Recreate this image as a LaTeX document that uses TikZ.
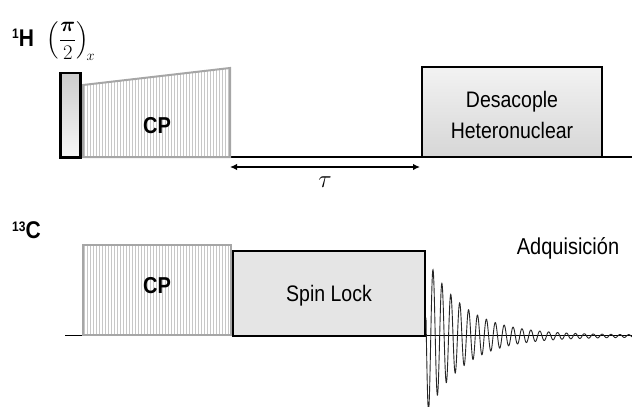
\documentclass[tikz,border=0pt]{standalone}
\usepackage{amsmath}
\usepackage{graphicx}
\usepackage{fontspec}
\setmainfont{Liberation Sans}
\usetikzlibrary{arrows.meta}
\newcommand{\tallt}[1]{\scalebox{1}[1.15]{#1}}
\tikzset{
  base/.style={line width=1.3pt, black},
  cpborder/.style={line width=2pt, draw=black!35},
  hatch/.style={line width=0.6pt, black!22},
  blackbox/.style={line width=2.4pt, draw=black},
  lbl/.style={font=\fontsize{19.5}{22}\selectfont, align=center, inner sep=0pt},
  cplbl/.style={font=\fontsize{20}{22}\selectfont\bfseries, inner sep=0pt},
  nuc/.style={font=\fontsize{21}{22}\selectfont\bfseries, inner sep=0pt, anchor=base west},
  fid/.style={line width=0.9pt, black!85},
}
\begin{document}
\begin{tikzpicture}[x=1pt,y=-1pt]
\useasboundingbox (0,0) rectangle (632,407);
% baselines
\draw[base] (230,157) -- (632,157);
\draw[base] (65,335.5) -- (632,335.5);
% 1H CP trapezoid
\fill[white] (83,157) -- (83,85) -- (230,68) -- (230,157) -- cycle;
\begin{scope}
\clip (83,157) -- (83,85) -- (230,68) -- (230,157) -- cycle;
\foreach \i in {84,87,...,230} \draw[hatch] (\i,60) -- (\i,160);
\end{scope}
\draw[cpborder] (83,157) -- (83,85) -- (230,68) -- (230,157) -- cycle;
% 90 pulse
\draw[blackbox, top color=black!20, bottom color=black!3] (60.5,73) rectangle (80.5,157);
\draw[line width=2pt] (59,157.5) -- (82,157.5);
% Desacople
\draw[blackbox, top color=black!5, bottom color=black!16] (422,67) rectangle (602,157);
% 13C CP
\fill[white] (83,245) rectangle (231,335);
\begin{scope}
\clip (83,245) rectangle (231,335);
\foreach \i in {84,87,...,231} \draw[hatch] (\i,240) -- (\i,340);
\end{scope}
\draw[cpborder] (83,245) rectangle (231,335);
% Spin lock
\draw[blackbox, fill=black!10] (233,251) rectangle (425,336);
% FID
\draw[fid] plot[domain=0:206, samples=1000, variable=\t]
  ({426+\t}, {336 - (78*exp(-\t/37)+1.8*exp(-\t/400))*sin(40.449*(\t-4.78))});
% tau arrow
\coordinate (tauL) at (230,167);
\coordinate (tauR) at (420,167);
\draw[line width=1.8pt, {Latex[length=7pt,width=6.5pt]}-{Latex[length=7pt,width=6.5pt]}] (tauL) -- (tauR);
\node[inner sep=0pt, font=\fontsize{25}{26}\selectfont] (tau) at (325,182) {$\tau$};
% labels
\node[nuc] (H) at (12,46) {\tallt{\raisebox{0.55ex}{\fontsize{12}{12}\selectfont 1}H}};
\node[nuc] (C) at (12,238.5) {\tallt{\raisebox{0.55ex}{\fontsize{12}{12}\selectfont 13}C}};
\node[inner sep=0pt, font=\fontsize{19.5}{21}\selectfont] (pulse) at (71,41)
  {$\displaystyle\left(\frac{\boldsymbol{\pi}}{2}\right)_{\!x}$};
\node[cplbl] (cp1) at (157,126) {\tallt{CP}};
\node[cplbl] (cp2) at (157,286) {\tallt{CP}};
\node[lbl] (dec) at (512,115) {\tallt{Desacople}\\[9pt]\tallt{Heteronuclear}};
\node[lbl] (sl) at (329,296) {\tallt{Spin Lock}};
\node[lbl, font=\fontsize{20}{22}\selectfont] (acq) at (568,248) {\tallt{Adquisición}};
\end{tikzpicture}
\end{document}
